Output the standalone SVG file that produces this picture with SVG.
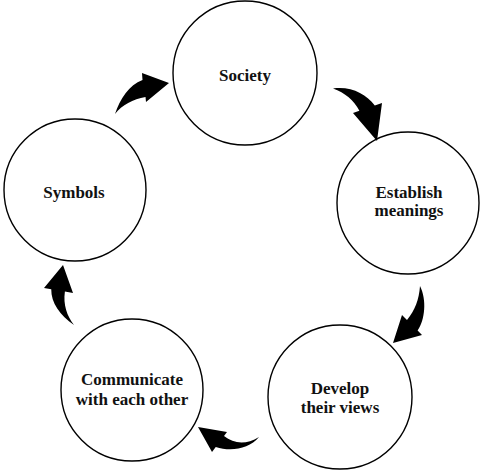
<svg xmlns="http://www.w3.org/2000/svg" width="486" height="472" viewBox="0 0 486 472">
<style>
.node circle{fill:#fff;stroke:#000;stroke-width:1.4}
.node text{font-family:"Liberation Serif","Times New Roman",serif;font-weight:bold;font-size:17px;fill:#111;text-anchor:middle}
.arrow{fill:#000;stroke:none}
</style>
<rect width="486" height="472" fill="#fff"/>
<g id="society" class="node"><circle cx="245" cy="73" r="72"/><text x="245" y="81">Society</text></g>
<g id="establish" class="node"><circle cx="408" cy="203" r="71"/><text x="409" y="198">Establish</text><text x="409" y="216">meanings</text></g>
<g id="develop" class="node"><circle cx="340" cy="397" r="72"/><text x="340" y="394">Develop</text><text x="340" y="413">their views</text></g>
<g id="communicate" class="node"><circle cx="132" cy="390" r="71"/><text x="132" y="385">Communicate</text><text x="132" y="405">with each other</text></g>
<g id="symbols" class="node"><circle cx="75" cy="190" r="71"/><text x="74" y="198">Symbols</text></g>
<g id="connectors">
<path class="arrow" d="M115,114 C120,99 129,85 142.5,80 L142,73 L169,83 L146,102 L145.5,97 C133,99 122,105 115,114 Z"/>
<path class="arrow" d="M333,88.5 C351,86 366,94 374.8,105.5 L382,103 L377,141 L353,113 L359.4,110.8 C354,100 345,93 333,88.5 Z"/>
<path class="arrow" d="M420,286 C427,300 425,320 417.6,330.6 L422,335 L393,343 L402,315 L407,320 C415,310 419,300 420,286 Z"/>
<path class="arrow" d="M259,437 C246,445 234,444 224,436 L227,432 L198,427 L212,452 L215.75,447 C231,452 249,449 259,437 Z"/>
<path class="arrow" d="M74,325 C60,315 51,303 51.25,289.25 L44,288 L63,265 L73,293 L64.9,291.6 C63,305 67,316 74,325 Z"/>
</g>
</svg>
